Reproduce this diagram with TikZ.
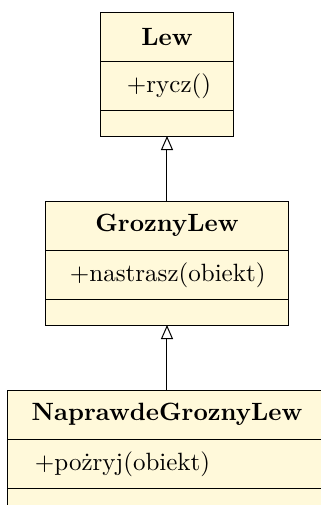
\documentclass[tikz,border=0pt]{standalone}
\usepackage{fontspec}
\usepackage{tikz}
\usetikzlibrary{arrows.meta,positioning}
\definecolor{UFill}{HTML}{FFF9DA}

\begin{document}
\begin{tikzpicture}[
  every node/.style={font=\normalsize},
  clsname/.style={fill=UFill,font=\bfseries,anchor=north,
    minimum height=19.4pt,inner sep=0pt},
  clsops/.style={fill=UFill,align=left,minimum height=19pt,inner ysep=0pt},
  clsempty/.style={fill=UFill,minimum height=10pt,inner sep=0pt},
  inh/.style={-{Triangle[open,length=5.6pt,width=4.8pt]},color=black}
]
  \useasboundingbox (0,0) rectangle (128.4pt,-202pt);
  \clip (0,0) rectangle (128.4pt,-202pt);

  % Lew
  \node[clsname,minimum width=52.8pt] (lew) at (66.8pt,-4.8pt) {Lew};
  \node[clsops,below=0pt of lew,text width=32pt,inner xsep=10.4pt] (lew-ops) {+rycz()};
  \node[clsempty,below=0pt of lew-ops,minimum width=52.8pt] (lew-end) {};

  % GroznyLew
  \node[clsname,minimum width=96.8pt] (grozny) at (66.8pt,-80.4pt) {GroznyLew};
  \node[clsops,below=0pt of grozny,text width=77.6pt,inner xsep=9.6pt] (grozny-ops) {+nastrasz(obiekt)};
  \node[clsempty,below=0pt of grozny-ops,minimum width=96.8pt] (grozny-end) {};

  % NaprawdeGroznyLew
  \node[clsname,minimum width=127.2pt] (naprawde) at (66.8pt,-156pt) {NaprawdeGroznyLew};
  \node[clsops,below=0pt of naprawde,text width=105.6pt,inner xsep=10.8pt] (naprawde-ops) {+pożryj(obiekt)};
  \node[clsempty,below=0pt of naprawde-ops,minimum width=127.2pt] (naprawde-end) {};

  % frames and compartment lines
  \foreach \c in {lew,grozny,naprawde}
    {\draw (\c.north west) rectangle (\c-end.south east);
     \draw (\c-ops.north west) -- (\c-ops.north east)
           (\c-ops.south west) -- (\c-ops.south east);}

  \draw[inh] (grozny.north) -- (lew-end.south);
  \draw[inh] (naprawde.north) -- (grozny-end.south);
\end{tikzpicture}
\end{document}
